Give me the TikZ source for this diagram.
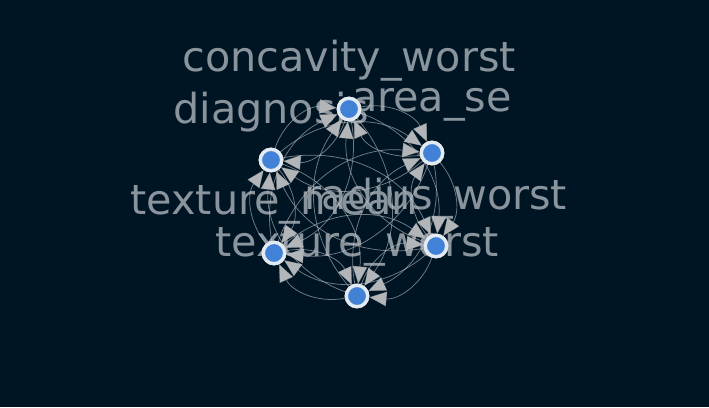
\documentclass[tikz,border=0pt]{standalone}
\usepackage{fontspec}
\setmainfont{DejaVu Sans}
\usetikzlibrary{arrows.meta}
\definecolor{bgc}{RGB}{0,21,36}
\definecolor{txtc}{RGB}{138,148,156}
\definecolor{edgec}{RGB}{190,195,200}
\definecolor{arrc}{RGB}{178,182,185}
\definecolor{nodec}{RGB}{66,130,214}
\definecolor{rimc}{RGB}{228,234,242}
\tikzset{
  lbl/.style={text=txtc, font=\fontsize{31}{36}\selectfont, inner sep=0pt, anchor=center},
  vtx/.style={circle, draw=rimc, line width=2.5pt, fill=nodec, minimum size=16pt, inner sep=0pt},
  edg/.style={draw=edgec, draw opacity=0.6, line width=0.55pt, bend left=38,
    -{Triangle[length=13pt, width=11pt, color=arrc, fill=arrc]}},
}
\begin{document}
\begin{tikzpicture}[x=0.75pt, y=-0.75pt]
\fill[bgc] (0,0) rectangle (709,407);
\useasboundingbox (0,0) rectangle (709,407);
% labels
\node[lbl] (lcw) at (349,61) {concavity\_worst};
\node[lbl] (ldg) at (271,112) {diagnosis};
\node[lbl] (las) at (432,105) {area\_se};
\node[lbl] (lrw) at (436,199) {radius\_worst};
\node[lbl] (ltm) at (274,205) {texture\_mean};
\node[lbl] (ltw) at (357,247) {texture\_worst};
% node positions
\path (349,109) coordinate (pcw) (271,160) coordinate (pdg) (432,153) coordinate (pas)
      (436,246) coordinate (prw) (274,253) coordinate (ptm) (357,296) coordinate (ptw);
\foreach \n in {cw,dg,as,rw,tm,tw}{\node[vtx] (\n) at (p\n) {};}
% edges
\foreach \a in {cw,dg,as,rw,tm,tw}{
  \foreach \b in {cw,dg,as,rw,tm,tw}{
    \ifx\a\b\else
      \path[edg] (\a) to (\b);
    \fi
  }
}
% nodes on top
\foreach \n in {cw,dg,as,rw,tm,tw}{\node[vtx] (\n) at (p\n) {};}
\end{tikzpicture}
\end{document}
